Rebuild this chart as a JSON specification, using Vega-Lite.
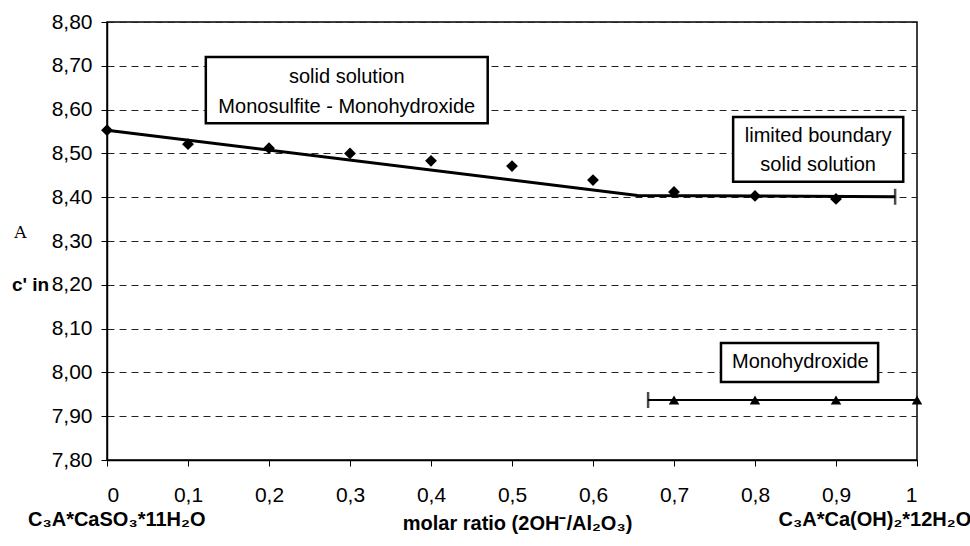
{
  "$schema": "https://vega.github.io/schema/vega-lite/v6.json",
  "width": 810,
  "height": 438,
  "autosize": {"type": "none"},
  "padding": {"left": 107, "top": 22, "right": 53, "bottom": 86},
  "background": "white",
  "config": {
    "font": "Liberation Sans",
    "view": {"stroke": "black", "strokeWidth": 1.5},
    "axis": {
      "domainColor": "black",
      "domainWidth": 1.5,
      "tickColor": "black",
      "tickSize": 6,
      "labelFont": "Liberation Sans",
      "labelFontSize": 21,
      "labelColor": "black",
      "titleFont": "Liberation Sans",
      "titleColor": "black",
      "gridColor": "#222",
      "gridDash": [7, 5],
      "gridWidth": 1
    }
  },
  "datasets": {
    "diamonds": [
      {"x": 0, "y": 8.553},
      {"x": 0.1, "y": 8.521},
      {"x": 0.2, "y": 8.512},
      {"x": 0.3, "y": 8.500},
      {"x": 0.4, "y": 8.483},
      {"x": 0.5, "y": 8.471},
      {"x": 0.6, "y": 8.439},
      {"x": 0.7, "y": 8.412},
      {"x": 0.8, "y": 8.403},
      {"x": 0.9, "y": 8.396}
    ],
    "fit": [
      {"x": 0, "y": 8.553},
      {"x": 0.655, "y": 8.404},
      {"x": 0.973, "y": 8.401}
    ],
    "triangles": [
      {"x": 0.7, "y": 7.937},
      {"x": 0.8, "y": 7.937},
      {"x": 0.9, "y": 7.937},
      {"x": 1.0, "y": 7.937}
    ],
    "mono": [
      {"x": 0.668, "y": 7.937},
      {"x": 1.0, "y": 7.937}
    ],
    "ends": [
      {"x": 0.973, "y": 8.401},
      {"x": 0.668, "y": 7.937}
    ],
    "boxes": [
      {"x": 0.122, "x2": 0.47, "y": 8.72, "y2": 8.569},
      {"x": 0.773, "x2": 0.983, "y": 8.583, "y2": 8.435},
      {"x": 0.758, "x2": 0.952, "y": 8.067, "y2": 7.978}
    ],
    "boxtext": [
      {"x": 0.296, "y": 8.674, "label": "solid solution"},
      {"x": 0.296, "y": 8.606, "label": "Monosulfite - Monohydroxide"},
      {"x": 0.878, "y": 8.540, "label": "limited boundary"},
      {"x": 0.878, "y": 8.474, "label": "solid solution"},
      {"x": 0.856, "y": 8.024, "label": "Monohydroxide"}
    ],
    "outer": [
      {"x": 0.012, "y": 7.663, "label": "C₃A*CaSO₃*11H₂O"},
      {"x": 0.948, "y": 7.663, "label": "C₃A*Ca(OH)₂*12H₂O"}
    ],
    "ang": [
      {"x": -0.107, "y": 8.318, "label": "A"}
    ]
  },
  "layer": [
    {
      "data": {"name": "boxes"},
      "mark": {"type": "rect", "fill": "white", "stroke": "black", "strokeWidth": 2.5},
      "encoding": {
        "x": {
          "field": "x", "type": "quantitative",
          "scale": {"domain": [0, 1], "nice": false, "zero": false},
          "axis": {
            "values": [0, 0.1, 0.2, 0.3, 0.4, 0.5, 0.6, 0.7, 0.8, 0.9, 1],
            "labelExpr": "datum.value == 0 ? '0' : datum.value == 1 ? '1' : replace(format(datum.value, '.1f'), '.', ',')",
            "grid": false,
            "labelPadding": 18,
            "title": "molar ratio (2OH⁻/Al₂O₃)",
            "titleFontSize": 20,
            "titleFontWeight": "bold",
            "titleBaseline": "middle",
            "titleX": 410,
            "titleY": 63
          }
        },
        "x2": {"field": "x2"},
        "y": {
          "field": "y", "type": "quantitative",
          "scale": {"domain": [7.8, 8.8], "nice": false, "zero": false},
          "axis": {
            "values": [7.8, 7.9, 8.0, 8.1, 8.2, 8.3, 8.4, 8.5, 8.6, 8.7, 8.8],
            "labelExpr": "replace(format(datum.value, '.2f'), '.', ',')",
            "grid": true,
            "labelPadding": 9,
            "title": "c' in",
            "titleAngle": 0,
            "titleFontSize": 19,
            "titleFontWeight": "bold",
            "titleAlign": "center",
            "titleBaseline": "middle",
            "titleX": -77,
            "titleY": 262
          }
        },
        "y2": {"field": "y2"}
      }
    },
    {
      "data": {"name": "boxtext"},
      "mark": {"type": "text", "fontSize": 20, "color": "black", "align": "center", "baseline": "middle"},
      "encoding": {
        "x": {"field": "x", "type": "quantitative"},
        "y": {"field": "y", "type": "quantitative"},
        "text": {"field": "label"}
      }
    },
    {
      "data": {"name": "fit"},
      "mark": {"type": "line", "color": "black", "strokeWidth": 3},
      "encoding": {
        "x": {"field": "x", "type": "quantitative"},
        "y": {"field": "y", "type": "quantitative"}
      }
    },
    {
      "data": {"name": "mono"},
      "mark": {"type": "line", "color": "black", "strokeWidth": 2},
      "encoding": {
        "x": {"field": "x", "type": "quantitative"},
        "y": {"field": "y", "type": "quantitative"}
      }
    },
    {
      "data": {"name": "diamonds"},
      "mark": {"type": "point", "shape": "diamond", "filled": true, "color": "black", "size": 140, "opacity": 1},
      "encoding": {
        "x": {"field": "x", "type": "quantitative"},
        "y": {"field": "y", "type": "quantitative"}
      }
    },
    {
      "data": {"name": "triangles"},
      "mark": {"type": "point", "shape": "triangle-up", "filled": true, "color": "black", "size": 110, "opacity": 1, "clip": false},
      "encoding": {
        "x": {"field": "x", "type": "quantitative"},
        "y": {"field": "y", "type": "quantitative"}
      }
    },
    {
      "data": {"name": "ends"},
      "mark": {"type": "tick", "orient": "vertical", "color": "black", "size": 16, "thickness": 2.5},
      "encoding": {
        "x": {"field": "x", "type": "quantitative"},
        "y": {"field": "y", "type": "quantitative"}
      }
    },
    {
      "data": {"name": "outer"},
      "mark": {"type": "text", "fontSize": 20, "fontWeight": "bold", "color": "black", "align": "center", "baseline": "middle", "clip": false},
      "encoding": {
        "x": {"field": "x", "type": "quantitative"},
        "y": {"field": "y", "type": "quantitative"},
        "text": {"field": "label"}
      }
    },
    {
      "data": {"name": "ang"},
      "mark": {"type": "text", "fontSize": 17, "font": "DejaVu Serif", "color": "black", "align": "center", "baseline": "middle", "clip": false},
      "encoding": {
        "x": {"field": "x", "type": "quantitative"},
        "y": {"field": "y", "type": "quantitative"},
        "text": {"field": "label"}
      }
    }
  ]
}
